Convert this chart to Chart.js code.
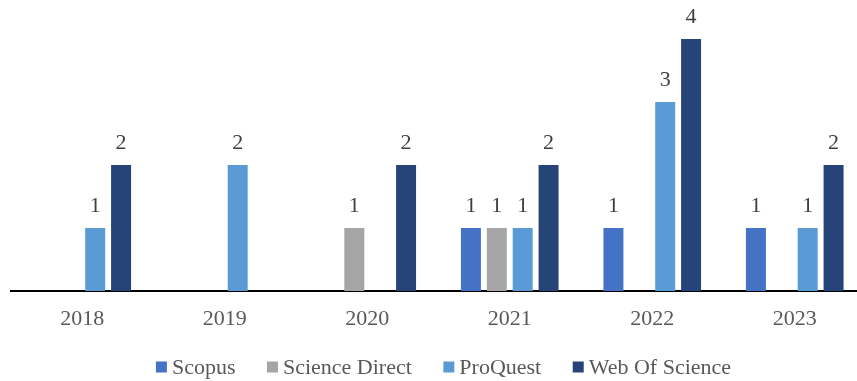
<!DOCTYPE html>
<html>
<head>
<meta charset="utf-8">
<script src="https://cdn.jsdelivr.net/npm/chart.js@4/dist/chart.umd.min.js"></script>
<style>
  html, body { margin: 0; padding: 0; background: #fff; overflow: hidden; }
  /* plot runs slightly past the right edge of the window */
  #wrap { width: 867px; height: 381px; position: relative; }
</style>
</head>
<body>
<div id="wrap"><canvas id="c"></canvas></div>
<script>
const years = ['2018', '2019', '2020', '2021', '2022', '2023'];
const scopus = [0, 0, 0, 1, 1, 1];
const scienceDirect = [0, 0, 1, 1, 0, 0];
const proQuest = [1, 2, 0, 1, 3, 1];
const webOfScience = [2, 0, 2, 2, 4, 2];

const FONT = "'Liberation Serif', 'Times New Roman', serif";

// Value labels above each non-zero bar
const valueLabels = {
  id: 'valueLabels',
  afterDatasetsDraw(chart) {
    const ctx = chart.ctx;
    ctx.save();
    ctx.font = '22px ' + FONT;
    ctx.fillStyle = '#404040';
    ctx.textAlign = 'center';
    ctx.textBaseline = 'alphabetic';
    chart.data.datasets.forEach((ds, i) => {
      const meta = chart.getDatasetMeta(i);
      meta.data.forEach((bar, j) => {
        const v = ds.data[j];
        if (!v) return;
        ctx.fillText(String(v), bar.x, bar.y - 16);
      });
    });
    ctx.restore();
  }
};

// Legend row under the axis: small square swatch, then the series name
const bottomLegend = {
  id: 'bottomLegend',
  afterDraw(chart) {
    const ctx = chart.ctx;
    const box = 11, gap = 5, spacing = 31.5, cy = 367, cx = 443.5;
    ctx.save();
    ctx.font = '22px ' + FONT;
    ctx.textBaseline = 'middle';
    const items = chart.data.datasets.map(ds => ({
      text: ds.label, color: ds.backgroundColor,
      w: box + gap + ctx.measureText(ds.label).width
    }));
    const total = items.reduce((s, it) => s + it.w, 0) + spacing * (items.length - 1);
    let x = cx - total / 2;
    items.forEach(it => {
      ctx.fillStyle = it.color;
      ctx.fillRect(x, cy - box / 2, box, box);
      ctx.fillStyle = '#595959';
      ctx.fillText(it.text, x + box + gap, cy + 1);
      x += it.w + spacing;
    });
    ctx.restore();
  }
};

new Chart(document.getElementById('c'), {
  type: 'bar',
  data: {
    labels: years,
    datasets: [
      { label: 'Scopus', data: scopus, backgroundColor: '#4472C4' },
      { label: 'Science Direct', data: scienceDirect, backgroundColor: '#A5A5A5' },
      { label: 'ProQuest', data: proQuest, backgroundColor: '#5B9BD5' },
      { label: 'Web Of Science', data: webOfScience, backgroundColor: '#264478' }
    ]
  },
  options: {
    responsive: true,
    maintainAspectRatio: false,
    animation: false,
    layout: { padding: { left: 11, right: 1, top: 0, bottom: 40 } },
    datasets: {
      bar: { categoryPercentage: 0.7265, barPercentage: 0.772, borderWidth: 0 }
    },
    scales: {
      x: {
        grid: { display: false },
        border: { display: true, color: '#000', width: 2 },
        ticks: { color: '#595959', font: { family: FONT, size: 22 }, padding: 7 },
        afterFit(scale) { scale.height = 50; }
      },
      y: {
        display: false,
        min: 0,
        max: 4.62
      }
    },
    plugins: {
      legend: { display: false },
      tooltip: { enabled: false }
    }
  },
  plugins: [valueLabels, bottomLegend]
});
</script>
</body>
</html>
